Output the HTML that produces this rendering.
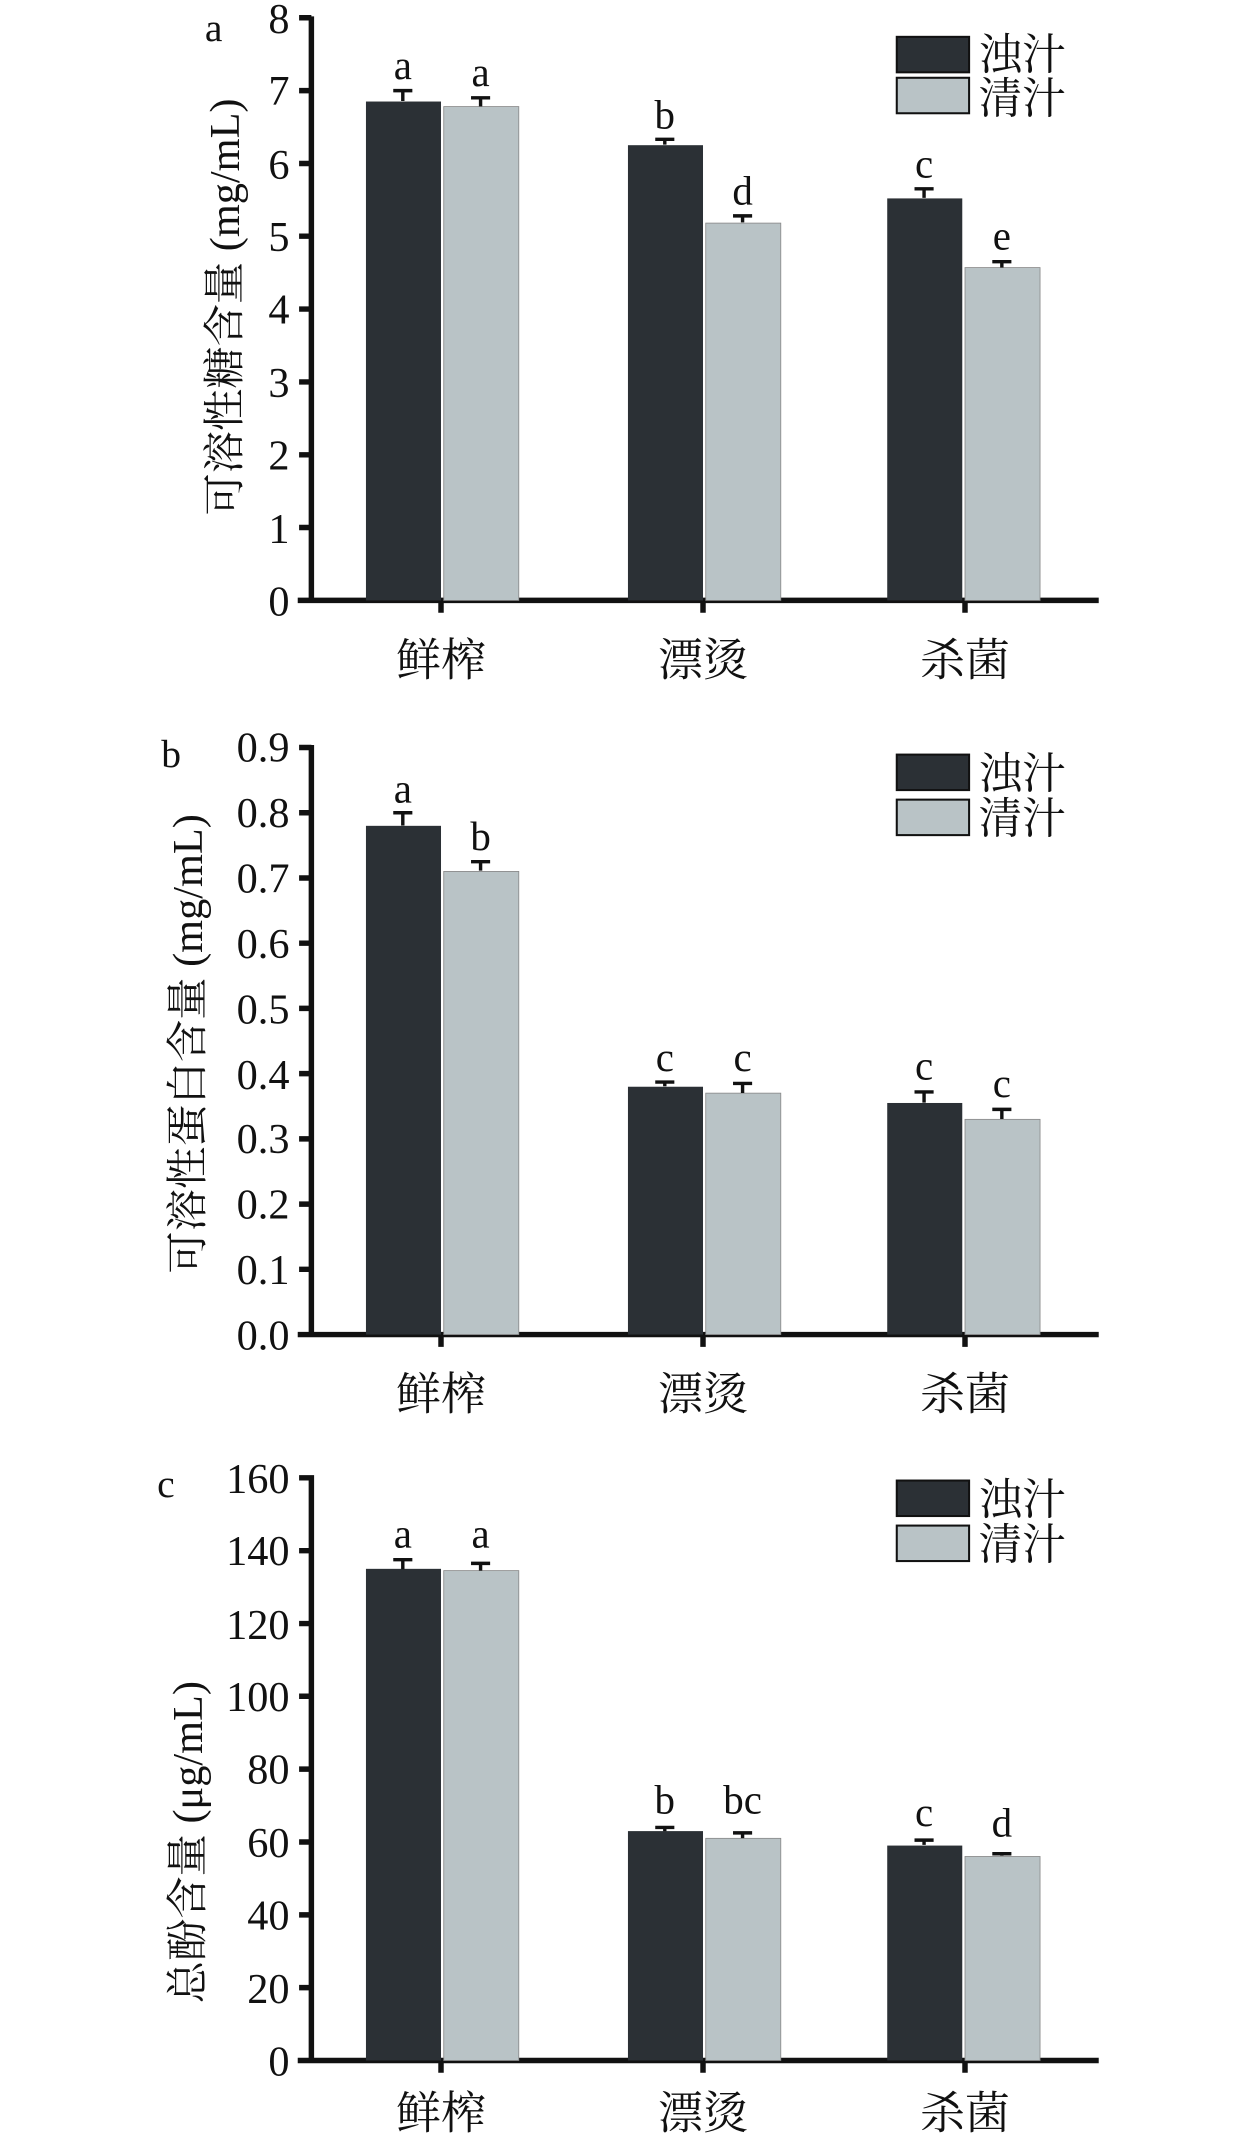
<!DOCTYPE html>
<html><head><meta charset="utf-8"><style>
html,body{margin:0;padding:0;background:#fff}
svg{display:block}
text{font-family:"Liberation Serif","Noto Serif CJK SC",serif;fill:#111}
.t{font-size:31px;text-anchor:end}
.c{font-size:33px;text-anchor:middle}
.l{font-size:30px;text-anchor:middle}
.d{fill:#2b3035}
.g{fill:#b9c3c6;stroke:#888;stroke-width:0.6}
.ax{stroke:#111;stroke-width:4;fill:none}
.e{stroke:#111;stroke-width:2.5;fill:none}
</style></head><body>
<svg width="1260" height="2141" viewBox="0 0 923 1569" xmlns="http://www.w3.org/2000/svg">
<!-- Panel a -->
<g>
<text x="150" y="30" style="font-size:29px">a</text>
<path class="ax" d="M228,12 V440 M218,440 H805 M228,13 H219 M228,66.4 H219 M228,119.8 H219 M228,173.1 H219 M228,226.5 H219 M228,279.9 H219 M228,333.3 H219 M228,386.6 H219 M323,440 V449 M515,440 V449 M707,440 V449"/>
<text class="t" x="212" y="24">8</text><text class="t" x="212" y="77">7</text><text class="t" x="212" y="131">6</text><text class="t" x="212" y="184">5</text><text class="t" x="212" y="237">4</text><text class="t" x="212" y="291">3</text><text class="t" x="212" y="344">2</text><text class="t" x="212" y="398">1</text><text class="t" x="212" y="451">0</text>
<rect class="d" x="268" y="74.4" width="55" height="365.6"/><rect class="g" x="325" y="78.1" width="55" height="361.9"/>
<rect class="d" x="460" y="106.4" width="55" height="333.6"/><rect class="g" x="517" y="163.5" width="55" height="276.5"/>
<rect class="d" x="650" y="145.4" width="55" height="294.6"/><rect class="g" x="707" y="196.1" width="55" height="243.9"/>
<path class="e" d="M295,74 V66.4 M288,66.4 H302 M352,78 V71.7 M345,71.7 H359 M487,106 V102.1 M480,102.1 H494 M544,163 V158.2 M537,158.2 H551 M677,145 V138.4 M670,138.4 H684 M734,196 V191.8 M727,191.8 H741"/>
<text class="l" x="295" y="58">a</text><text class="l" x="352" y="63">a</text><text class="l" x="487" y="94">b</text><text class="l" x="544" y="150">d</text><text class="l" x="677" y="130">c</text><text class="l" x="734" y="183">e</text>
<text class="c" x="323" y="495">鲜榨</text><text class="c" x="515" y="495">漂烫</text><text class="c" x="707" y="495">杀菌</text>
<rect x="657" y="27" width="53" height="26" fill="#2b3035" stroke="#111" stroke-width="1.5"/><rect x="657" y="57" width="53" height="26" fill="#b9c3c6" stroke="#111" stroke-width="1.5"/>
<text x="717" y="51" style="font-size:32px">浊汁</text><text x="717" y="83" style="font-size:32px">清汁</text>
<text class="c" transform="translate(175,225) rotate(-90)" style="font-size:31px">可溶性糖含量 (mg/mL)</text>
</g>
<!-- Panel b -->
<g>
<text x="118" y="562" style="font-size:29px">b</text>
<path class="ax" d="M228,546 V978 M218,978 H805 M228,547.8 H219 M228,595.6 H219 M228,643.4 H219 M228,691.2 H219 M228,739 H219 M228,786.8 H219 M228,834.6 H219 M228,882.4 H219 M228,930.2 H219 M323,978 V987 M515,978 V987 M707,978 V987"/>
<text class="t" x="212" y="558">0.9</text><text class="t" x="212" y="606">0.8</text><text class="t" x="212" y="654">0.7</text><text class="t" x="212" y="702">0.6</text><text class="t" x="212" y="750">0.5</text><text class="t" x="212" y="798">0.4</text><text class="t" x="212" y="845">0.3</text><text class="t" x="212" y="893">0.2</text><text class="t" x="212" y="941">0.1</text><text class="t" x="212" y="989">0.0</text>
<rect class="d" x="268" y="605.2" width="55" height="372.8"/><rect class="g" x="325" y="638.6" width="55" height="339.4"/>
<rect class="d" x="460" y="796.4" width="55" height="181.6"/><rect class="g" x="517" y="801.1" width="55" height="176.9"/>
<rect class="d" x="650" y="808.3" width="55" height="169.7"/><rect class="g" x="707" y="820.3" width="55" height="157.7"/>
<path class="e" d="M295,605 V595.6 M288,595.6 H302 M352,638 V631.5 M345,631.5 H359 M487,796 V793 M480,793 H494 M544,801 V794 M537,794 H551 M677,808 V800.2 M670,800.2 H684 M734,820 V813 M727,813 H741"/>
<text class="l" x="295" y="588">a</text><text class="l" x="352" y="623">b</text><text class="l" x="487" y="785">c</text><text class="l" x="544" y="785">c</text><text class="l" x="677" y="791">c</text><text class="l" x="734" y="804">c</text>
<text class="c" x="323" y="1033">鲜榨</text><text class="c" x="515" y="1033">漂烫</text><text class="c" x="707" y="1033">杀菌</text>
<rect x="657" y="553" width="53" height="26" fill="#2b3035" stroke="#111" stroke-width="1.5"/><rect x="657" y="586" width="53" height="26" fill="#b9c3c6" stroke="#111" stroke-width="1.5"/>
<text x="717" y="578" style="font-size:32px">浊汁</text><text x="717" y="611" style="font-size:32px">清汁</text>
<text class="c" transform="translate(148,765) rotate(-90)" style="font-size:31px">可溶性蛋白含量 (mg/mL)</text>
</g>
<!-- Panel c -->
<g>
<text x="115" y="1097" style="font-size:29px">c</text>
<path class="ax" d="M228,1081 V1510 M218,1510 H805 M228,1083 H219 M228,1136.4 H219 M228,1189.8 H219 M228,1243.1 H219 M228,1296.5 H219 M228,1349.9 H219 M228,1403.3 H219 M228,1456.6 H219 M323,1510 V1519 M515,1510 V1519 M707,1510 V1519"/>
<text class="t" x="212" y="1094">160</text><text class="t" x="212" y="1147">140</text><text class="t" x="212" y="1201">120</text><text class="t" x="212" y="1254">100</text><text class="t" x="212" y="1307">80</text><text class="t" x="212" y="1361">60</text><text class="t" x="212" y="1414">40</text><text class="t" x="212" y="1468">20</text><text class="t" x="212" y="1521">0</text>
<rect class="d" x="268" y="1149.7" width="55" height="360.3"/><rect class="g" x="325" y="1151" width="55" height="359"/>
<rect class="d" x="460" y="1341.9" width="55" height="168.1"/><rect class="g" x="517" y="1347.2" width="55" height="162.8"/>
<rect class="d" x="650" y="1352.5" width="55" height="157.5"/><rect class="g" x="707" y="1360.5" width="55" height="149.5"/>
<path class="e" d="M295,1150 V1143 M288,1143 H302 M352,1151 V1145.7 M345,1145.7 H359 M487,1342 V1339.2 M480,1339.2 H494 M544,1347 V1343.2 M537,1343.2 H551 M677,1352 V1348.5 M670,1348.5 H684 M734,1360 V1358.5 M727,1358.5 H741"/>
<text class="l" x="295" y="1134">a</text><text class="l" x="352" y="1134">a</text><text class="l" x="487" y="1329">b</text><text class="l" x="544" y="1329">bc</text><text class="l" x="677" y="1338">c</text><text class="l" x="734" y="1346">d</text>
<text class="c" x="323" y="1560">鲜榨</text><text class="c" x="515" y="1560">漂烫</text><text class="c" x="707" y="1560">杀菌</text>
<rect x="657" y="1085" width="53" height="26" fill="#2b3035" stroke="#111" stroke-width="1.5"/><rect x="657" y="1118" width="53" height="26" fill="#b9c3c6" stroke="#111" stroke-width="1.5"/>
<text x="717" y="1110" style="font-size:32px">浊汁</text><text x="717" y="1143" style="font-size:32px">清汁</text>
<text class="c" transform="translate(148,1350) rotate(-90)" style="font-size:31px">总酚含量 (μg/mL)</text>
</g>
</svg>
</body></html>
